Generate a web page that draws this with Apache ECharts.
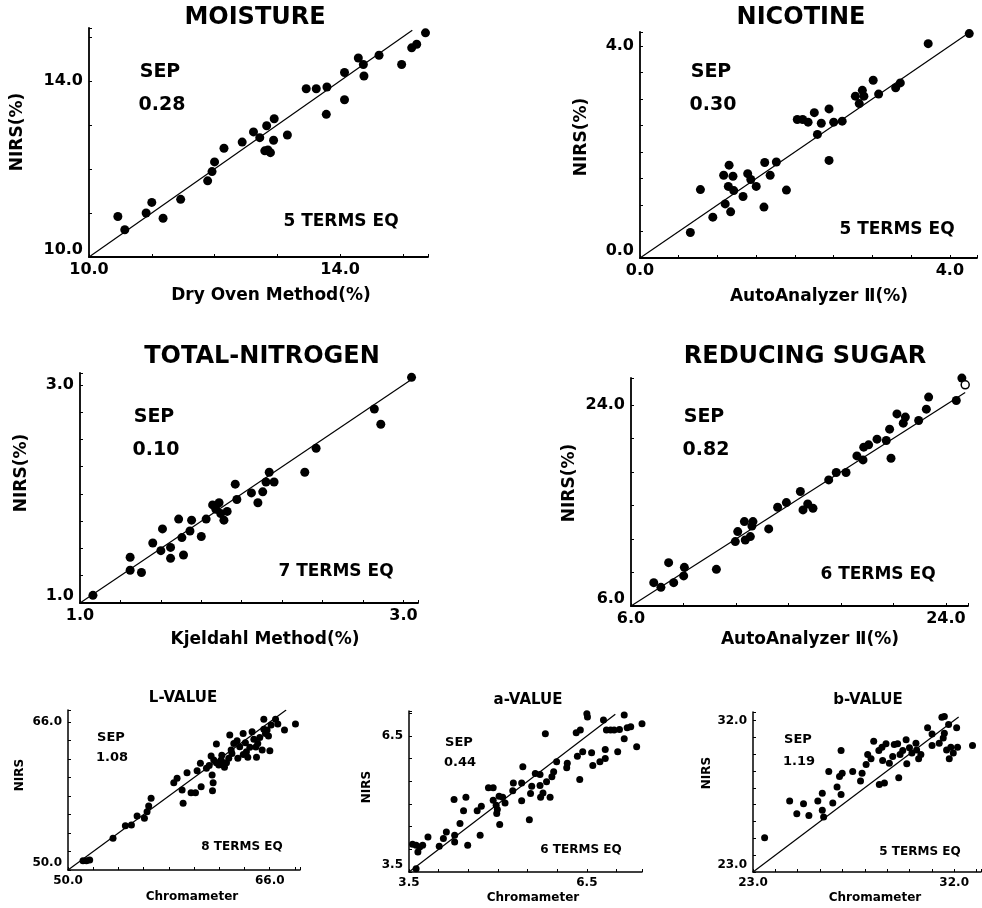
<!DOCTYPE html>
<html>
<head>
<meta charset="utf-8">
<script src="https://cdn.jsdelivr.net/npm/echarts@6/dist/echarts.min.js"></script>
<style>
  html, body { margin: 0; padding: 0; background: #fff; }
  #chart { width: 982px; height: 908px; }
</style>
</head>
<body>
<div id="chart"></div>
<script>
// reference (x) vs NIRS (y) readings
const moisturePts = [[10.46,10.92],[10.57,10.62],[10.91,11.0],[11.0,11.24],[11.18,10.88],[11.46,11.31],[11.89,11.73],[11.96,11.94],[12.0,12.16],[12.15,12.47],[12.44,12.61],[12.62,12.84],[12.72,12.71],[12.83,12.98],[12.95,13.14],[12.94,12.65],[12.8,12.41],[12.85,12.43],[12.89,12.37],[13.16,12.77],[13.46,13.82],[13.62,13.82],[13.79,13.86],[13.78,13.24],[14.07,14.19],[14.07,13.57],[14.29,14.52],[14.37,14.37],[14.38,14.11],[14.62,14.58],[14.98,14.37],[15.14,14.75],[15.22,14.83],[15.36,15.09]];

const nicotinePts = [[0.65,0.48],[0.78,1.29],[0.94,0.77],[1.1,1.02],[1.17,0.87],[1.15,1.75],[1.08,1.56],[1.2,1.54],[1.14,1.35],[1.21,1.27],[1.33,1.16],[1.39,1.59],[1.43,1.48],[1.5,1.35],[1.6,0.96],[1.61,1.8],[1.68,1.56],[1.76,1.81],[1.89,1.28],[2.03,2.61],[2.1,2.61],[2.17,2.56],[2.25,2.74],[2.29,2.33],[2.34,2.54],[2.44,2.81],[2.44,1.84],[2.5,2.56],[2.61,2.58],[2.83,2.91],[2.78,3.05],[2.87,3.16],[2.89,3.05],[3.01,3.35],[3.08,3.09],[3.3,3.21],[3.36,3.3],[3.72,4.04],[4.25,4.23]];

const nitrogenPts = [[1.08,1.07],[1.31,1.42],[1.31,1.3],[1.38,1.28],[1.45,1.55],[1.5,1.48],[1.56,1.51],[1.56,1.41],[1.51,1.68],[1.61,1.77],[1.63,1.6],[1.64,1.44],[1.68,1.66],[1.69,1.76],[1.75,1.61],[1.78,1.77],[1.82,1.9],[1.86,1.92],[1.84,1.86],[1.87,1.82],[1.89,1.76],[1.91,1.84],[1.96,2.09],[1.97,1.95],[2.06,2.01],[2.1,1.92],[2.13,2.02],[2.15,2.11],[2.17,2.2],[2.2,2.11],[2.39,2.2],[2.46,2.42],[2.82,2.78],[2.86,2.64],[3.05,3.07]];

const sugarPts = [[7.3,8.09],[7.71,7.67],[8.15,9.88],[8.44,8.09],[9.01,8.69],[9.05,9.46],[10.88,9.28],[11.96,11.76],[12.1,12.66],[12.53,11.91],[12.48,13.55],[12.82,12.21],[12.91,13.16],[12.97,13.55],[13.87,12.9],[14.38,14.84],[14.88,15.25],[15.68,16.24],[15.83,14.6],[16.1,15.13],[16.4,14.75],[17.3,17.28],[17.73,17.94],[18.29,17.94],[18.91,19.43],[19.3,20.21],[19.26,19.07],[19.58,20.42],[20.06,20.93],[20.59,20.81],[20.78,21.82],[20.86,19.22],[21.2,23.19],[21.56,22.36],[21.68,22.9],[22.44,22.6],[22.88,23.61],[23.01,24.69],[24.59,24.39],[24.91,26.39]];
const sugarOpenPts = [[25.1,25.79]];

const lValuePts = [[51.19,51.01],[51.46,51.01],[51.72,51.08],[53.57,53.42],[54.55,54.79],[55.03,54.86],[55.48,55.84],[56.06,55.59],[56.27,56.31],[56.4,56.92],[56.59,57.75],[58.39,59.44],[58.65,59.91],[59.05,58.65],[59.13,57.21],[59.44,60.52],[59.76,58.36],[60.11,58.36],[60.24,60.73],[60.5,61.53],[60.56,59.01],[60.98,60.99],[61.35,62.32],[61.43,60.27],[61.51,59.44],[61.46,58.58],[61.56,61.89],[61.77,63.62],[61.77,61.6],[61.96,61.35],[62.14,61.89],[62.3,61.6],[62.41,61.1],[62.57,61.6],[62.75,62.07],[62.83,64.59],[62.94,62.97],[63.15,63.69],[63.41,63.98],[63.47,62.07],[63.62,63.33],[63.89,64.77],[64.07,63.77],[64.15,62.79],[64.26,62.18],[64.42,63.26],[64.6,64.95],[64.74,64.13],[64.95,62.18],[65.05,63.69],[65.21,64.34],[65.4,62.97],[65.53,65.21],[65.66,64.77],[65.79,65.13],[66.01,62.9],[66.11,65.68],[65.53,66.29],[66.46,66.29],[66.64,65.78],[67.17,65.13],[68.04,65.78],[63.0,62.6],[63.9,62.5],[64.9,63.3],[62.2,62.4],[61.2,61.3],[65.9,64.5]];

const aValuePts = [[3.56,4.11],[3.62,4.09],[3.65,3.94],[3.68,4.05],[3.73,4.09],[3.62,3.57],[3.82,4.27],[4.01,4.07],[4.08,4.24],[4.13,4.38],[4.27,4.31],[4.27,4.16],[4.36,4.57],[4.26,5.1],[4.42,4.85],[4.46,5.15],[4.49,4.09],[4.65,4.85],[4.72,4.95],[4.7,4.31],[4.84,5.36],[4.92,5.36],[4.92,5.08],[4.97,4.97],[4.99,4.88],[4.98,4.79],[5.02,5.17],[5.03,4.55],[5.08,5.15],[5.12,5.02],[5.25,5.29],[5.26,5.46],[5.4,5.46],[5.4,5.07],[5.42,5.82],[5.53,4.65],[5.55,5.23],[5.57,5.39],[5.63,5.67],[5.71,5.65],[5.71,5.41],[5.72,5.15],[5.76,5.24],[5.8,6.55],[5.82,5.49],[5.88,5.15],[5.91,5.6],[5.94,5.71],[5.99,5.93],[6.16,5.8],[6.17,5.9],[6.32,6.57],[6.38,5.54],[6.39,6.63],[6.34,6.05],[6.43,6.15],[6.5,6.99],[6.51,6.92],[6.58,6.13],[6.6,5.85],[6.72,5.93],[6.78,6.85],[6.81,6.2],[6.81,6.0],[6.83,6.63],[6.9,6.63],[6.96,6.63],[7.02,6.15],[7.05,6.64],[7.13,6.96],[7.13,6.44],[7.18,6.68],[7.24,6.7],[7.34,6.26],[7.43,6.77]];

const bValuePts = [[23.52,25.04],[24.64,27.21],[24.96,26.46],[25.26,27.05],[25.5,26.36],[25.9,27.21],[26.1,27.68],[26.1,26.66],[26.16,26.26],[26.39,28.97],[26.57,27.09],[26.76,28.04],[26.87,28.67],[26.94,27.6],[26.94,30.21],[26.99,28.87],[27.46,28.97],[27.81,28.4],[27.88,28.87],[28.06,29.38],[28.13,29.98],[28.28,29.72],[28.4,30.77],[28.63,30.21],[28.65,28.2],[28.77,30.41],[28.8,29.62],[28.88,28.28],[28.95,30.61],[29.1,29.46],[29.25,29.86],[29.32,30.57],[29.47,30.61],[29.52,28.59],[29.58,29.98],[29.7,30.21],[29.85,30.85],[29.88,29.42],[30.0,30.37],[30.11,30.06],[30.29,30.65],[30.32,30.25],[30.41,29.72],[30.51,29.98],[30.81,31.56],[31.01,30.51],[31.01,31.2],[31.33,30.65],[31.45,32.19],[31.56,32.23],[31.56,31.24],[31.51,30.96],[31.66,30.25],[31.75,31.76],[31.78,29.72],[31.85,30.41],[31.96,30.06],[32.11,31.56],[32.15,30.41],[32.82,30.51]];

// tick labels shown on each panel (same on both axes)
const moistureTicks = [10, 14];
const nicotineTicks = [0, 4];
const nitrogenTicks = [1, 3];
const sugarTicks = [6, 24];
const lValueTicks = [50, 66];
const aValueTicks = [3.5, 6.5];
const bValueTicks = [23, 32];

// 1:1 line ends
const moistureLine = [10, 15.15];
const nicotineLine = [0, 4.2];
const nitrogenLine = [1, 3.07];
const sugarLine = [6, 25.1];
const lValueLine = [50, 67.3];
const aValueLine = [3.5, 6.98];
const bValueLine = [23, 32.2];

const FONT = '"DejaVu Sans", "Liberation Sans", sans-serif';

// layout of every panel (pixels) and axis ranges
const panels = [
    { pts: moisturePts, ticks: moistureTicks, line: moistureLine, box: [89, 28, 339, 229], x: [10, 15.4, 1], y: [10, 15.2, 1], big: true },
    { pts: nicotinePts, ticks: nicotineTicks, line: nicotineLine, box: [640, 32, 337, 226], x: [0, 4.35, 0.5], y: [0, 4.26, 0.5], big: true },
    { pts: nitrogenPts, ticks: nitrogenTicks, line: nitrogenLine, box: [80, 373, 338, 230], x: [1, 3.09, 0.25], y: [1, 3.11, 0.25], big: true },
    { pts: sugarPts, ticks: sugarTicks, line: sugarLine, box: [631, 378, 337, 228], x: [6, 25.26, 3], y: [6, 26.4, 3], big: true },
    { pts: lValuePts, ticks: lValueTicks, line: lValueLine, box: [68, 710, 232, 160], x: [50, 68.4, 2], y: [50, 67.3, 2], big: false },
    { pts: aValuePts, ticks: aValueTicks, line: aValueLine, box: [409, 711, 233, 161], x: [3.5, 7.43, 0.5], y: [3.5, 7.05, 0.5], big: false },
    { pts: bValuePts, ticks: bValueTicks, line: bValueLine, box: [753, 712, 228, 160], x: [23, 33.2, 1], y: [23, 32.5, 1], big: false }
];

// [text, x, y, size, rotate]
const labels = [
    ['MOISTURE', 255, 18, 24], ['NICOTINE', 801, 18, 24],
    ['TOTAL-NITROGEN', 262, 357, 24], ['REDUCING SUGAR', 805, 357, 24],
    ['L-VALUE', 183, 698, 15], ['a-VALUE', 528, 700, 15], ['b-VALUE', 868, 700, 15],
    ['SEP', 160, 72, 19], ['0.28', 162, 105, 19], ['5 TERMS EQ', 341, 222, 17],
    ['SEP', 711, 72, 19], ['0.30', 713, 105, 19], ['5 TERMS EQ', 897, 230, 17],
    ['SEP', 154, 417, 19], ['0.10', 156, 450, 19], ['7 TERMS EQ', 336, 572, 17],
    ['SEP', 704, 417, 19], ['0.82', 706, 450, 19], ['6 TERMS EQ', 878, 575, 17],
    ['SEP', 111, 738, 13], ['1.08', 112, 758, 13], ['8 TERMS EQ', 242, 847, 12],
    ['SEP', 459, 743, 13], ['0.44', 460, 763, 13], ['6 TERMS EQ', 581, 850, 12],
    ['SEP', 798, 740, 13], ['1.19', 799, 762, 13], ['5 TERMS EQ', 920, 852, 12],
    ['Dry Oven Method(%)', 271, 296, 17], ['AutoAnalyzer \u2161(%)', 819, 297, 17],
    ['Kjeldahl Method(%)', 265, 640, 17], ['AutoAnalyzer \u2161(%)', 810, 640, 17],
    ['Chromameter', 192, 897, 12], ['Chromameter', 533, 898, 12], ['Chromameter', 875, 898, 12],
    ['NIRS(%)', 18, 132, 17, 90], ['NIRS(%)', 582, 137, 17, 90],
    ['NIRS(%)', 22, 473, 17, 90], ['NIRS(%)', 570, 483, 17, 90],
    ['NIRS', 20, 775, 12, 90], ['NIRS', 367, 787, 12, 90], ['NIRS', 707, 773, 12, 90]
];

const chart = echarts.init(document.getElementById('chart'), null, { renderer: 'canvas' });

const grids = [], xAxes = [], yAxes = [], series = [];

panels.forEach((p, i) => {
    const [left, top, width, height] = p.box;
    grids.push({ left, top, width, height, containLabel: false, outerBoundsMode: 'none' });

    const fs = p.big ? 16 : 12;
    const axis = (r, isY) => ({
        gridIndex: i,
        type: 'value',
        min: r[0],
        max: r[1],
        interval: r[2],
        axisLine: { show: true, onZero: false, lineStyle: { color: '#000', width: p.big ? 1.8 : 1.5 } },
        axisTick: { show: true, inside: true, length: 3, lineStyle: { color: '#000', width: 1 } },
        splitLine: { show: false },
        axisLabel: {
            formatter: v => {
                if (!p.ticks.some(t => Math.abs(t - v) < 1e-6)) return '';
                // the lowest y label sits a little above the corner
                return (isY && Math.abs(v - r[0]) < 1e-6) ? '{lo|' + v.toFixed(1) + '}' : v.toFixed(1);
            },
            rich: { lo: { padding: [0, 0, 14, 0], fontSize: fs, fontWeight: 'bold', fontFamily: FONT, color: '#000' } },
            color: '#000',
            fontFamily: FONT,
            fontWeight: 'bold',
            fontSize: fs,
            margin: isY ? 6 : 5,
            showMinLabel: true,
            showMaxLabel: true,
            hideOverlap: false
        }
    });
    xAxes.push(axis(p.x, false));
    yAxes.push(axis(p.y, true));

    series.push({
        type: 'scatter',
        xAxisIndex: i,
        yAxisIndex: i,
        data: p.pts,
        symbolSize: p.big ? 9 : 7,
        itemStyle: { color: '#000', opacity: 1 },
        silent: true
    });
    series.push({
        type: 'line',
        xAxisIndex: i,
        yAxisIndex: i,
        data: [[p.line[0], p.line[0]], [p.line[1], p.line[1]]],
        symbol: 'none',
        lineStyle: { color: '#000', width: 1.2 },
        silent: true
    });
});

// open circle in the sugar panel
series.push({
    type: 'scatter',
    xAxisIndex: 3,
    yAxisIndex: 3,
    data: sugarOpenPts,
    symbolSize: 8,
    itemStyle: { color: '#fff', borderColor: '#000', borderWidth: 1.5, opacity: 1 },
    silent: true
});

const graphics = labels.map(([text, x, y, size, rot]) => ({
    type: 'text',
    x: x,
    y: y,
    rotation: rot ? Math.PI / 2 : 0,
    silent: true,
    style: {
        text: text,
        fill: '#000',
        font: 'bold ' + size + 'px ' + FONT,
        align: 'center',
        verticalAlign: 'middle',
        textAlign: 'center',
        textVerticalAlign: 'middle'
    }
}));

chart.setOption({
    animation: false,
    backgroundColor: '#fff',
    grid: grids,
    xAxis: xAxes,
    yAxis: yAxes,
    series: series,
    graphic: { elements: graphics }
});
</script>
</body>
</html>
